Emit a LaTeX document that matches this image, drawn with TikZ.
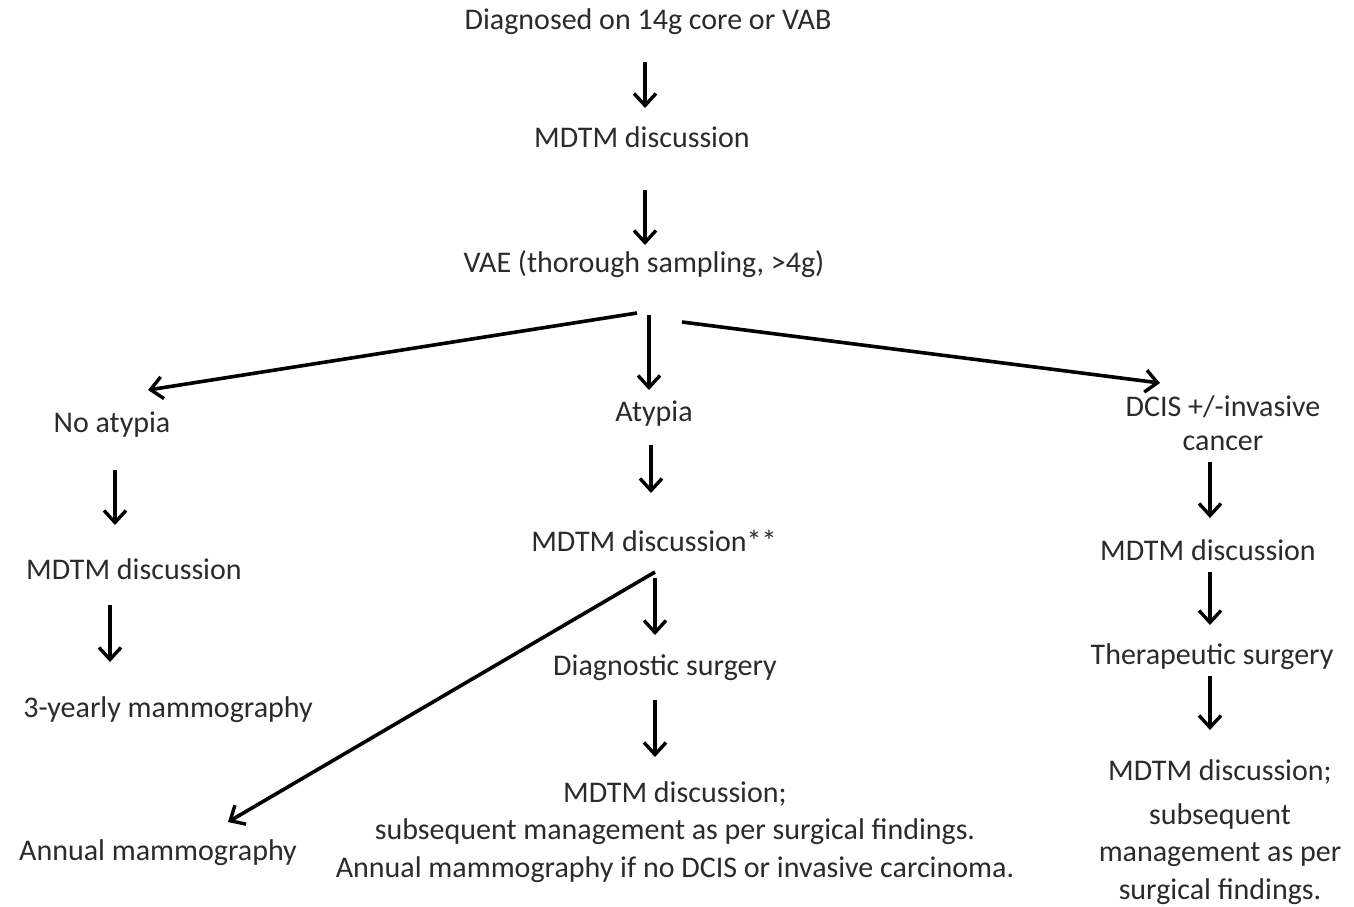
\documentclass[tikz,border=0pt]{standalone}
\usepackage{fontspec}
\setmainfont{Carlito}
\usepackage{xcolor}
\usepackage{tikz}
\usetikzlibrary{arrows.meta}
\definecolor{inkgrey}{HTML}{2B2B2B}

\begin{document}
\begin{tikzpicture}[x=1pt, y=-1pt,
    every node/.style={text=inkgrey, inner sep=0pt,
        font=\fontsize{30}{37.5}\selectfont},
    lbl/.style={text height=22pt, text depth=7pt},
    block/.style={align=center},
    arr/.style={draw=black, line width=3.6pt,
        -{Straight Barb[length=12pt, width=22pt, line width=3.4pt]}}]
    \useasboundingbox[fill=white] (0,0) rectangle (1354,906);

    % top column
    \node[lbl] (diag) at (648,22) {Diagnosed on 14g core or VAB};
    \node[lbl] (mdtm1) at (642,140) {MDTM discussion};
    \node[lbl] (vae) at (644,265) {VAE (thorough sampling, >4g)};

    % three branches
    \node[lbl] (noatyp) at (112,425) {No atypia};
    \node[lbl] (atyp) at (654,414) {Atypia};
    \node[block] (dcis) at (1223,423) {DCIS +/-invasive\\[-4pt]cancer};

    \node[lbl] (mdtmL) at (134,572) {MDTM discussion};
    \node[lbl] (mamm3) at (168,710) {3-yearly mammography};

    \node[lbl] (mdtmA) at (654,544) {MDTM discussion**};
    \node[lbl] (diagsurg) at (665,668) {Diagnostic surgery};
    \node[block] (mdtmA2) at (675,832) {MDTM discussion;\\
        subsequent management as per surgical findings.\\
        Annual mammography if no DCIS or invasive carcinoma.};
    \node[lbl] (annual) at (158,853) {Annual mammography};

    \node[lbl] (mdtmD) at (1208,553) {MDTM discussion};
    \node[lbl] (thersurg) at (1212,657) {Therapeutic surgery};
    \node[block] (mdtmD2) at (1220,832) {MDTM discussion;\\[6pt]
        subsequent\\management as per\\surgical findings.};

    % connectors
    \draw[arr] ([shift={(-3,40)}]diag.center) -- ([shift={(3,-32)}]mdtm1.center);
    \draw[arr] ([shift={(3,50)}]mdtm1.center) -- ([shift={(1,-20)}]vae.center);
    \draw[arr] ([shift={(-7,48)}]vae.center) -- ([shift={(36,-35)}]noatyp.center);
    \draw[arr] ([shift={(5,50)}]vae.center) -- ([shift={(-5,-24)}]atyp.center);
    \draw[arr] ([shift={(38,57)}]vae.center) -- ([shift={(-63,-40)}]dcis.center);

    \draw[arr] ([shift={(3,45)}]noatyp.center) -- ([shift={(-19,-47)}]mdtmL.center);
    \draw[arr] ([shift={(-24,33)}]mdtmL.center) -- ([shift={(-58,-48)}]mamm3.center);

    \draw[arr] ([shift={(-3,31)}]atyp.center) -- ([shift={(-3,-51)}]mdtmA.center);
    \draw[arr] ([shift={(1,34)}]mdtmA.center) -- ([shift={(-10,-33)}]diagsurg.center);
    \draw[arr] ([shift={(1,28)}]mdtmA.center) -- ([shift={(70,-31)}]annual.center);
    \draw[arr] ([shift={(-10,32)}]diagsurg.center) -- ([shift={(-20,-75)}]mdtmA2.center);

    \draw[arr] ([shift={(-13,39)}]dcis.center) -- ([shift={(2,-35)}]mdtmD.center);
    \draw[arr] ([shift={(2,19)}]mdtmD.center) -- ([shift={(-2,-32)}]thersurg.center);
    \draw[arr] ([shift={(-2,19)}]thersurg.center) -- ([shift={(-10,-102)}]mdtmD2.center);
\end{tikzpicture}
\end{document}
